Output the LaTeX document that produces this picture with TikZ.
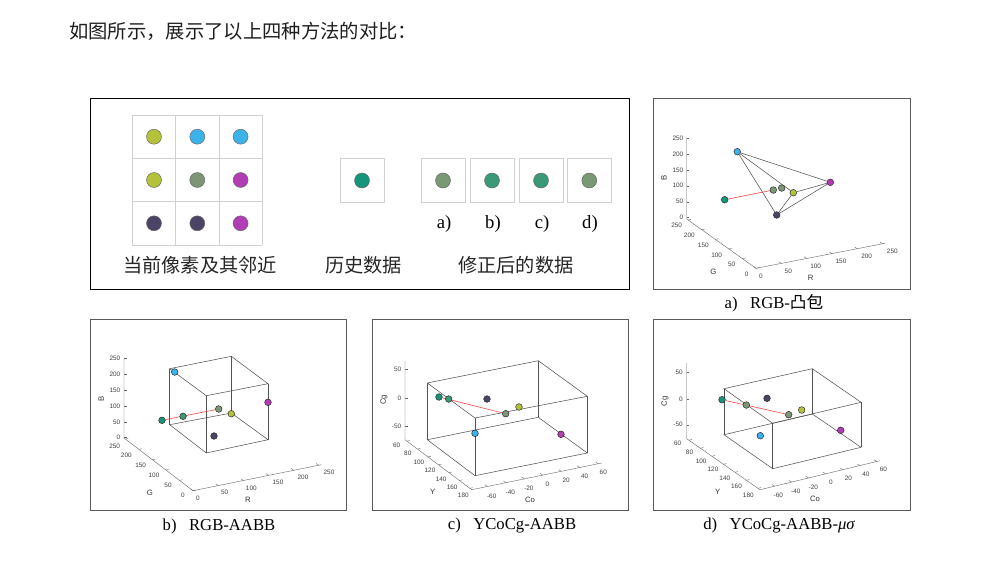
\documentclass[tikz,border=0pt]{standalone}
\usepackage{fontspec}
\setmainfont{Liberation Serif}
\newfontfamily\cjk{Noto Sans CJK SC}
\newfontfamily\axf{Liberation Sans}
\usetikzlibrary{calc}
\definecolor{cYl}{HTML}{B4C23A}
\definecolor{cBl}{HTML}{3CB2EA}
\definecolor{cGr}{HTML}{7E9676}
\definecolor{cMg}{HTML}{B23CB4}
\definecolor{cDk}{HTML}{4C4466}
\definecolor{cTl}{HTML}{14967A}
\definecolor{cT2}{HTML}{3A9A78}
\definecolor{cG2}{HTML}{7A9874}
\tikzset{
 bigdot/.style={circle,inner sep=0pt,minimum size=11.2pt,draw=black!60,line width=0.35pt},
 dot/.style={circle,inner sep=0pt,minimum size=5pt,draw=black!85,line width=0.35pt},
 cell/.style={draw=black!18,line width=0.5pt},
 sbox/.style={draw=black!18,line width=0.5pt},
 frame/.style={draw=black!65,line width=0.6pt},
 axl/.style={draw=black!60,line width=0.3pt},
 edge3/.style={draw=black!68,line width=0.4pt},
 redl/.style={draw=red!80,line width=0.4pt},
 tk/.style={font=\axf\fontsize{4.8}{5}\selectfont,text=black!75,inner sep=0pt},
 axlab/.style={font=\axf\fontsize{5.8}{6}\selectfont,text=black!80,inner sep=0pt},
 capt/.style={font=\fontsize{12.5}{14}\selectfont,inner sep=0pt},
 lbl/.style={font=\fontsize{14}{16}\selectfont,inner sep=0pt},
 zh/.style={font=\cjk\fontsize{14.4}{16}\selectfont,inner sep=0pt,text=black!85},
}
\newcommand\tickset[5]{\foreach \f in {#3} \draw[axl] ($(#1)!\f!(#2)$) -- ++(#4,#5);}
\begin{document}
\begin{tikzpicture}[x=0.75pt,y=-0.75pt]
\useasboundingbox[fill=white] (0,0) rectangle (996,562);
% title
\node[zh,anchor=west,font=\cjk\fontsize{14.5}{16}\selectfont,text=black!88] (title) at (69,31.7) {如图所示，展示了以上四种方法的对比：};

% ===== main panel =====
\draw[black,line width=0.7pt] (90,98.5) rectangle (629,289.5);
\foreach \x in {132.3,175.6,219,262.3} \draw[cell] (\x,115) -- (\x,245);
\foreach \y in {115,158.3,201.7,245} \draw[cell] (132.3,\y) -- (262.3,\y);
\node[bigdot,fill=cYl] (p11) at (154,136.7) {};
\node[bigdot,fill=cBl] (p12) at (197.3,136.7) {};
\node[bigdot,fill=cBl] (p13) at (240.6,136.7) {};
\node[bigdot,fill=cYl] (p21) at (154,180) {};
\node[bigdot,fill=cGr] (p22) at (197.3,180) {};
\node[bigdot,fill=cMg] (p23) at (240.6,180) {};
\node[bigdot,fill=cDk] (p31) at (154,223.3) {};
\node[bigdot,fill=cDk] (p32) at (197.3,223.3) {};
\node[bigdot,fill=cMg] (p33) at (240.6,223.3) {};
\draw[sbox] (340,158.5) rectangle (384,202.3);
\node[bigdot,fill=cTl] (hist) at (362,180.5) {};
\draw[sbox] (421,158.5) rectangle (465,202.3);
\draw[sbox] (470,158.5) rectangle (514,202.3);
\draw[sbox] (519,158.5) rectangle (563,202.3);
\draw[sbox] (567.5,158.5) rectangle (611,202.3);
\node[bigdot,fill=cG2] (ca) at (443,180.5) {};
\node[bigdot,fill=cT2] (cb) at (492,180.5) {};
\node[bigdot,fill=cT2] (cc) at (541,180.5) {};
\node[bigdot,fill=cG2] (cd) at (589.3,180.5) {};
\node[lbl] (la) at (444,224) {a)};
\node[lbl] (lb) at (493,224) {b)};
\node[lbl] (lc) at (542,224) {c)};
\node[lbl] (ld) at (590,224) {d)};
\node[zh] (z1) at (200,265) {当前像素及其邻近};
\node[zh] (z2) at (363.5,265) {历史数据};
\node[zh] (z3) at (515.8,265) {修正后的数据};

% ===== panel a =====
\draw[frame] (653.3,98.5) rectangle (910,289.5);
\coordinate (aV1) at (686.7,137.7); \coordinate (aO) at (686.7,219);
\coordinate (aG0) at (756,268.3); \coordinate (aR1) at (885,243.3);
\draw[axl] (aV1) -- (aO) -- (aG0) -- (aR1);
\foreach \v/\y [count=\i] in {0/217,50/201.7,100/185.7,150/170,200/154,250/137.9}{
  \draw[axl] (686.7,\y) -- ++(2.5,0);
  \node[tk,anchor=east] (aBt\i) at (683.5,\y) {\v};}
\tickset{aO}{aG0}{0.02,0.216,0.412,0.608,0.804,1}{2.9}{-0.57}
\tickset{aG0}{aR1}{0,0.196,0.392,0.588,0.784,0.98}{-2.4}{-1.7}
\foreach \v/\x/\y [count=\i] in {250/676.7/225.7,200/689.3/235.7,150/703.3/245.7,100/716.7/255,50/731.7/264.3,0/746.7/274}
  \node[tk] (aGt\i) at (\x,\y) {\v};
\foreach \v/\x/\y [count=\i] in {0/761/276.7,50/788.3/271.7,100/815.7/266.7,150/841/261.7,200/866.7/256.7,250/892.3/251.7}
  \node[tk] (aRt\i) at (\x,\y) {\v};
\node[axlab,rotate=90] (aBl) at (664,177.7) {B};
\node[axlab] (aGl) at (713.3,271.7) {G};
\node[axlab] (aRl) at (810.7,277.7) {R};
\node[dot,fill=cBl] (aBlue) at (737.3,151.7) {};
\node[dot,fill=cMg] (aMag) at (830.3,182.3) {};
\node[dot,fill=cDk] (aDk) at (776.7,215) {};
\node[dot,fill=cYl] (aYl) at (793.3,192.7) {};
\node[dot,fill=cTl] (aTl) at (724.7,199.7) {};
\draw[edge3] (aBlue) -- (aMag);
\draw[edge3] (aBlue) -- (aDk);
\draw[edge3] (aBlue) -- (aYl);
\draw[edge3] (aMag) -- (aYl);
\draw[edge3] (aMag) -- (aDk);
\draw[edge3] (aYl) -- (aDk);
\node[dot,fill=cG2] (aG2) at (773.3,190) {};
\node[dot,fill=cGr] (aGr) at (781.7,188) {};
\draw[redl] (aTl) -- (aG2);
\node[capt] (capa) at (774,303) {a)\hspace{0.5em} RGB-{\cjk 凸包}};

% ===== panel b =====
\draw[frame] (90.7,319.7) rectangle (346.3,510.7);
\coordinate (bV1) at (124,358.7); \coordinate (bO) at (124,438);
\coordinate (bG0) at (193,490.7); \coordinate (bR1) at (321.3,464.7);
\draw[axl] (bV1) -- (bO) -- (bG0) -- (bR1);
\foreach \v/\y [count=\i] in {0/437,50/422,100/406.3,150/390.3,200/374,250/358.3}{
  \draw[axl] (124,\y) -- ++(2.5,0);
  \node[tk,anchor=east] (bBt\i) at (120.5,\y) {\v};}
\tickset{bO}{bG0}{0.02,0.216,0.412,0.608,0.804,1}{2.94}{-0.6}
\tickset{bG0}{bR1}{0,0.196,0.392,0.588,0.784,0.98}{-2.38}{-1.82}
\foreach \v/\x/\y [count=\i] in {250/114.7/446.3,200/126.3/455.7,150/140.7/465.7,100/154/475.3,50/168/485.3,0/183/495.3}
  \node[tk] (bGt\i) at (\x,\y) {\v};
\foreach \v/\x/\y [count=\i] in {0/198/498,50/224.7/492.7,100/251.3/488,150/278/482.3,200/303/477.3,250/329/472.3}
  \node[tk] (bRt\i) at (\x,\y) {\v};
\node[axlab,rotate=90] (bBl) at (101.3,398.7) {B};
\node[axlab] (bGl) at (150,492.7) {G};
\node[axlab] (bRl) at (248,499.7) {R};
\coordinate (bT1) at (169.7,368.7); \coordinate (bT2) at (231.3,356.3);
\coordinate (bT3) at (268,383.7); \coordinate (bT4) at (206.3,395.7);
\coordinate (bB1) at (169.7,424.7); \coordinate (bB2) at (231.3,413);
\coordinate (bB3) at (268,439.7); \coordinate (bB4) at (206.3,453);
\draw[edge3] (bT1) -- (bT2) -- (bT3) -- (bT4) -- cycle;
\draw[edge3] (bB1) -- (bB2) -- (bB3) -- (bB4) -- cycle;
\draw[edge3] (bT1) -- (bB1) (bT2) -- (bB2) (bT3) -- (bB3) (bT4) -- (bB4);
\node[dot,fill=cTl] (bTl) at (162,420.3) {};
\node[dot,fill=cGr] (bGr) at (218.7,409) {};
\draw[redl] (bTl) -- (bGr);
\node[dot,fill=cT2] (bT2p) at (183,416.3) {};
\node[dot,fill=cBl] (bBlue) at (174.7,372) {};
\node[dot,fill=cYl] (bYl) at (231.3,413.7) {};
\node[dot,fill=cMg] (bMag) at (268,402.3) {};
\node[dot,fill=cDk] (bDk) at (214,436) {};
\node[capt] (capb) at (219,526) {b)\hspace{0.5em} RGB-AABB};

% ===== panel c =====
\draw[frame] (372.7,319.7) rectangle (628.3,510.7);
\coordinate (cV1) at (405,360.7); \coordinate (cO) at (405,439.7);
\coordinate (cY1) at (471.7,489.7); \coordinate (cC1) at (601.7,463);
\draw[axl] (cV1) -- (cO) -- (cY1) -- (cC1);
\foreach \v/\y [count=\i] in {50/369,0/398,-50/426.3}{
  \draw[axl] (405,\y) -- ++(2.5,0);
  \node[tk,anchor=east] (cCgt\i) at (401.5,\y) {\v};}
\tickset{cO}{cY1}{0.03,0.187,0.344,0.501,0.658,0.815,0.972}{2.94}{-0.6}
\tickset{cY1}{cC1}{0.12,0.262,0.404,0.546,0.688,0.83,0.972}{-2.4}{-1.8}
\foreach \v/\x/\y [count=\i] in {60/396.7/445.3,80/407.8/453.7,100/418.9/462.1,120/430/470.5,140/441.1/478.9,160/452.2/487.3,180/463.3/495.7}
  \node[tk] (cYt\i) at (\x,\y) {\v};
\foreach \v/\x/\y [count=\i] in {-60/491.7/496.3,-40/510.3/492.3,-20/528.9/488.3,0/547.5/484.3,20/566.1/480.3,40/584.7/476.3,60/603.3/472.3}
  \node[tk] (cCot\i) at (\x,\y) {\v};
\node[axlab,rotate=90] (cCgl) at (384,399.7) {Cg};
\node[axlab] (cYl) at (432.7,492.3) {Y};
\node[axlab] (cCol) at (530,499.5) {Co};
\coordinate (cT1) at (427.3,383); \coordinate (cT2) at (538.3,360.7);
\coordinate (cT3) at (587.3,396.3); \coordinate (cT4) at (475,418);
\coordinate (cB1) at (427.3,439.7); \coordinate (cB2) at (538.3,417.3);
\coordinate (cB3) at (587.3,453); \coordinate (cB4) at (475,475.7);
\draw[edge3] (cT1) -- (cT2) -- (cT3) -- (cT4) -- cycle;
\draw[edge3] (cB1) -- (cB2) -- (cB3) -- (cB4) -- cycle;
\draw[edge3] (cT1) -- (cB1) (cT2) -- (cB2) (cT3) -- (cB3) (cT4) -- (cB4);
\node[dot,fill=cTl] (cTl) at (439,397) {};
\node[dot,fill=cGr] (cGr) at (505.7,413.7) {};
\draw[redl] (cTl) -- (cGr);
\node[dot,fill=cT2] (cT2p) at (448.7,399) {};
\node[dot,fill=cDk] (cDk) at (487,399) {};
\node[dot,fill=cYl] (cYlp) at (519,407) {};
\node[dot,fill=cBl] (cBlue) at (475,433.3) {};
\node[dot,fill=cMg] (cMag) at (561,434.3) {};
\node[capt] (capc) at (512,526) {c)\hspace{0.5em} YCoCg-AABB};

% ===== panel d =====
\draw[frame] (653.3,319.7) rectangle (910,510.7);
\coordinate (dV1) at (686.7,363); \coordinate (dO) at (686.7,438.7);
\coordinate (dY1) at (760,489.7); \coordinate (dC1) at (880,460.7);
\draw[axl] (dV1) -- (dO) -- (dY1) -- (dC1);
\foreach \v/\y [count=\i] in {50/372.3,0/399,-50/424.7}{
  \draw[axl] (686.7,\y) -- ++(2.5,0);
  \node[tk,anchor=east] (dCgt\i) at (683,\y) {\v};}
\tickset{dO}{dY1}{0.03,0.187,0.344,0.501,0.658,0.815,0.972}{2.92}{-0.7}
\tickset{dY1}{dC1}{0.12,0.262,0.404,0.546,0.688,0.83,0.972}{-2.46}{-1.71}
\foreach \v/\x/\y [count=\i] in {60/677.7/443.7,80/689.5/452.3,100/701.2/460.9,120/713/469.5,140/724.8/478.1,160/736.5/486.7,180/748.3/495.3}
  \node[tk] (dYt\i) at (\x,\y) {\v};
\foreach \v/\x/\y [count=\i] in {-60/778.3/495.3,-40/795.8/491,-20/813.3/486.8,0/830.8/482.5,20/848.3/478.2,40/865.8/474,60/883.3/469.7}
  \node[tk] (dCot\i) at (\x,\y) {\v};
\node[axlab,rotate=90] (dCgl) at (665,401.3) {Cg};
\node[axlab] (dYl) at (717.7,492) {Y};
\node[axlab] (dCol) at (815,498.5) {Co};
\coordinate (dT1) at (724,388.7); \coordinate (dT2) at (812.3,368.7);
\coordinate (dT3) at (861,402.3); \coordinate (dT4) at (772.7,423.3);
\coordinate (dB1) at (724,434.7); \coordinate (dB2) at (812.3,414);
\coordinate (dB3) at (861,447.3); \coordinate (dB4) at (772.7,468.7);
\draw[edge3] (dT1) -- (dT2) -- (dT3) -- (dT4) -- cycle;
\draw[edge3] (dB1) -- (dB2) -- (dB3) -- (dB4) -- cycle;
\draw[edge3] (dT1) -- (dB1) (dT2) -- (dB2) (dT3) -- (dB3) (dT4) -- (dB4);
\node[dot,fill=cTl] (dTl) at (722,399.7) {};
\node[dot,fill=cGr] (dGr) at (788.7,414.7) {};
\draw[redl] (dTl) -- (dGr);
\node[dot,fill=cG2] (dG2p) at (746.3,405) {};
\node[dot,fill=cDk] (dDk) at (767,398.3) {};
\node[dot,fill=cYl] (dYlp) at (801.7,410) {};
\node[dot,fill=cBl] (dBlue) at (760.3,435.7) {};
\node[dot,fill=cMg] (dMag) at (840.7,430.3) {};
\node[capt] (capd) at (779,526) {d)\hspace{0.5em} YCoCg-AABB-{\itshape μσ}};
\end{tikzpicture}
\end{document}
